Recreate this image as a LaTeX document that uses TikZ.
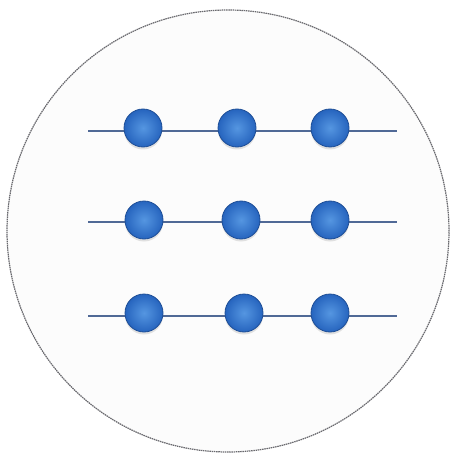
\documentclass[tikz,border=0pt]{standalone}
\usetikzlibrary{shadows}
\definecolor{beadin}{RGB}{85,150,225}
\definecolor{beadout}{RGB}{38,100,190}
\definecolor{beadedge}{RGB}{30,78,150}
\definecolor{wirecol}{RGB}{80,105,150}
\definecolor{rimgray}{RGB}{105,105,110}
\tikzset{
  bead/.style={circle, minimum size=38pt, inner sep=0pt, inner color=beadin, outer color=beadout, draw=beadedge, line width=0.8pt,
    drop shadow={shadow xshift=0pt, shadow yshift=-2.5pt, opacity=0.22}},
  wire/.style={draw=wirecol, line width=1.2pt},
  rim/.style={draw=rimgray, dash pattern=on 1.5pt off 0.7pt, line width=1.2pt, fill=white!98!gray}
}
\begin{document}
\begin{tikzpicture}[x=1pt,y=-1pt]
\useasboundingbox (0,0) rectangle (453,457);
\node[rim, circle, minimum size=442pt, inner sep=0pt] (disk) at (228,231) {};
% wires
\coordinate (l1) at (88,131); \coordinate (r1) at (397,131);
\coordinate (l2) at (88,222); \coordinate (r2) at (397,222);
\coordinate (l3) at (88,316); \coordinate (r3) at (397,316);
\draw[wire] (l1) -- (r1);
\draw[wire] (l2) -- (r2);
\draw[wire] (l3) -- (r3);
% beads
\node[bead] (a1) at (143,128) {};
\node[bead] (a2) at (237,128) {};
\node[bead] (a3) at (330,128) {};
\node[bead] (b1) at (144,220) {};
\node[bead] (b2) at (241,220) {};
\node[bead] (b3) at (330,220) {};
\node[bead] (c1) at (144,313) {};
\node[bead] (c2) at (244,313) {};
\node[bead] (c3) at (330,313) {};
\end{tikzpicture}
\end{document}
